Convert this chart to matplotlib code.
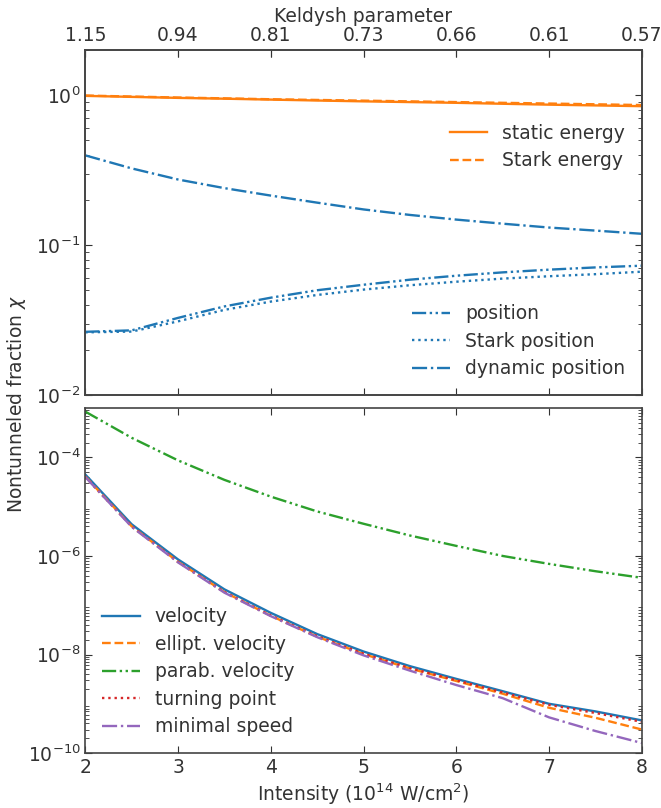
import numpy as np
import matplotlib
matplotlib.use("Agg")
import matplotlib.pyplot as plt

# intensity in 1e14 W/cm^2
intensity = [2, 2.5, 3, 3.5, 4, 4.5, 5, 5.5, 6, 6.5, 7, 7.5, 8]
keldysh_ticks = [2, 3, 4, 5, 6, 7, 8]
keldysh_labels = ["1.15", "0.94", "0.81", "0.73", "0.66", "0.61", "0.57"]

# top panel
static_energy = [0.99, 0.975, 0.96, 0.948, 0.935, 0.922, 0.91, 0.9, 0.89, 0.877, 0.865, 0.855, 0.845]
stark_energy = [0.995, 0.98, 0.965, 0.953, 0.94, 0.93, 0.92, 0.91, 0.9, 0.89, 0.88, 0.87, 0.86]
position = [0.0264, 0.027, 0.0327, 0.039, 0.0446, 0.05, 0.0544, 0.0588, 0.0625, 0.0658, 0.0686, 0.071, 0.0729]
stark_position = [0.0262, 0.0265, 0.031, 0.037, 0.042, 0.0465, 0.0505, 0.054, 0.057, 0.0598, 0.062, 0.064, 0.0665]
dynamic_position = [0.397, 0.325, 0.274, 0.24, 0.214, 0.192, 0.173, 0.159, 0.148, 0.139, 0.131, 0.125, 0.119]

# bottom panel
velocity = [4.5e-5, 4.4e-6, 8.5e-7, 2.1e-7, 7.0e-8, 2.6e-8, 1.15e-8, 5.8e-9, 3.2e-9, 1.8e-9, 1.0e-9, 7.0e-10, 4.6e-10]
ellipt_velocity = [4.1e-5, 4.0e-6, 7.6e-7, 1.85e-7, 6.1e-8, 2.3e-8, 1.02e-8, 5.2e-9, 2.9e-9, 1.6e-9, 8.3e-10, 5.2e-10, 3.0e-10]
parab_velocity = [8.5e-4, 2.5e-4, 8.7e-5, 3.5e-5, 1.6e-5, 8.0e-6, 4.5e-6, 2.6e-6, 1.6e-6, 1.0e-6, 6.9e-7, 4.9e-7, 3.6e-7]
turning_point = [4.0e-5, 4.0e-6, 7.6e-7, 1.85e-7, 6.2e-8, 2.35e-8, 1.04e-8, 5.3e-9, 3.0e-9, 1.7e-9, 9.5e-10, 6.5e-10, 4.3e-10]
minimal_speed = [4.0e-5, 3.9e-6, 7.4e-7, 1.8e-7, 6.0e-8, 2.25e-8, 9.6e-9, 4.7e-9, 2.4e-9, 1.3e-9, 5.3e-10, 2.8e-10, 1.6e-10]

plt.rcParams.update({
    "font.family": "DejaVu Sans",
    "font.size": 13.5,
    "text.color": "#333333",
    "axes.labelcolor": "#333333",
    "xtick.color": "#333333",
    "ytick.color": "#333333",
    "axes.edgecolor": "#444444",
    "axes.linewidth": 1.2,
    "xtick.direction": "in",
    "ytick.direction": "in",
    "xtick.major.size": 5,
    "ytick.major.size": 5,
    "ytick.minor.size": 3,
    "lines.linewidth": 1.7,
    "legend.fontsize": 13.5,
})

blue, orange, green, red, purple = "#1f77b4", "#ff7f0e", "#2ca02c", "#d62728", "#9467bd"
dashdotdot = (0, (6, 1.5, 1, 1.5, 1, 1.5))

fig, (ax1, ax2) = plt.subplots(2, 1, figsize=(6.61, 8.08), dpi=100, sharex=True)
fig.subplots_adjust(left=0.129, right=0.971, top=0.938, bottom=0.068, hspace=0.038)

# top panel
l1, = ax1.plot(intensity, static_energy, color=orange, ls="-", label="static energy")
l2, = ax1.plot(intensity, stark_energy, color=orange, ls="--", label="Stark energy")
l3, = ax1.plot(intensity, position, color=blue, ls=dashdotdot, label="position")
l4, = ax1.plot(intensity, stark_position, color=blue, ls=":", label="Stark position")
l5, = ax1.plot(intensity, dynamic_position, color=blue, ls="-.", label="dynamic position")
ax1.set_yscale("log")
ax1.set_ylim(1e-2, 2)
leg1 = ax1.legend(handles=[l1, l2], loc="upper right", bbox_to_anchor=(1.0, 0.835),
                  frameon=False, labelspacing=0.45)
ax1.add_artist(leg1)
ax1.legend(handles=[l3, l4, l5], loc="lower right", frameon=False, labelspacing=0.45)

top = ax1.twiny()
top.set_xlim(2, 8)
top.set_xticks(keldysh_ticks)
top.set_xticklabels(keldysh_labels)
top.set_xlabel("Keldysh parameter", labelpad=3)
top.tick_params(direction="in", length=5)

# bottom panel
ax2.plot(intensity, velocity, color=blue, ls="-", label="velocity")
ax2.plot(intensity, ellipt_velocity, color=orange, ls="--", label="ellipt. velocity")
ax2.plot(intensity, parab_velocity, color=green, ls=dashdotdot, label="parab. velocity")
ax2.plot(intensity, turning_point, color=red, ls=":", label="turning point")
ax2.plot(intensity, minimal_speed, color=purple, ls="-.", label="minimal speed")
ax2.set_yscale("log")
ax2.set_ylim(1e-10, 1e-3)
ax2.set_yticks([1e-10, 1e-8, 1e-6, 1e-4])
ax2.legend(loc="lower left", frameon=False, labelspacing=0.45)

ax2.set_xlim(2, 8)
ax2.set_xticks(keldysh_ticks)
ax2.set_xlabel("Intensity ($10^{14}$ W/cm$^2$)", labelpad=3)

for ax in (ax1, ax2):
    ax.tick_params(which="both", top=True, right=True, direction="in")
ax1.tick_params(axis="x", labelbottom=False)

fig.text(0.008, 0.5, r"Nontunneled fraction $\chi$", rotation=90, va="center", ha="left",
         fontsize=13.5, color="#333333")

plt.savefig("out.png", dpi=100)
